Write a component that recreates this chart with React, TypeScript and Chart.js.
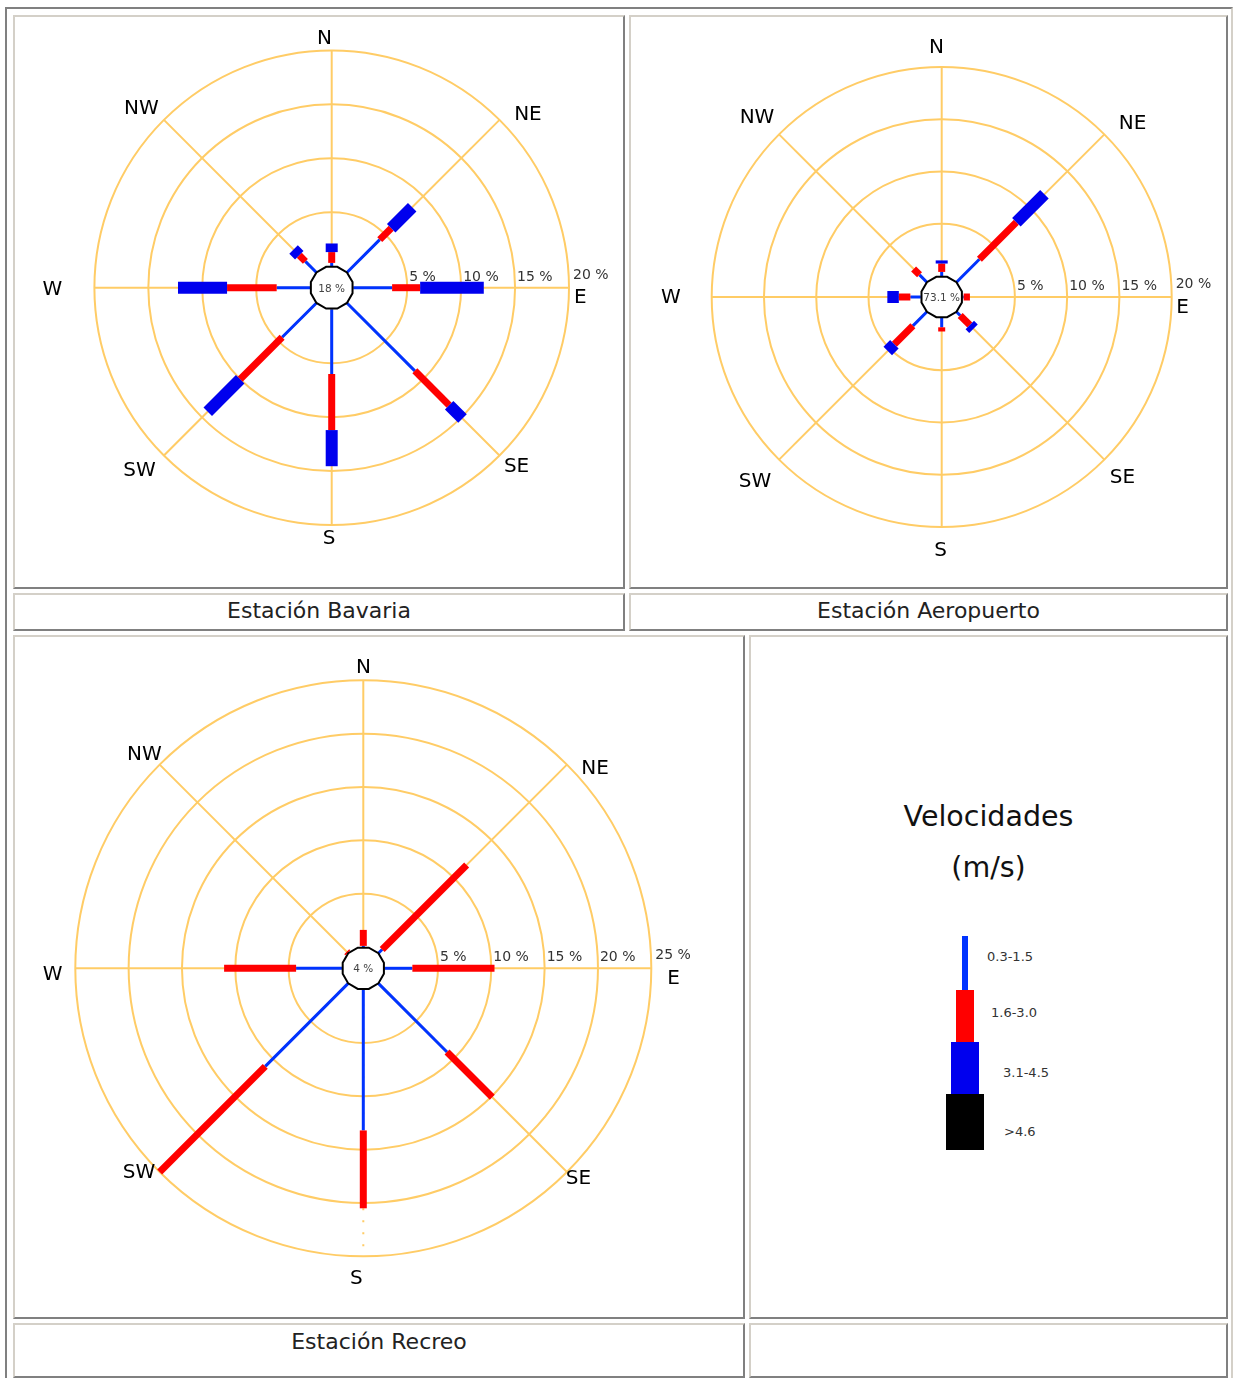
import React, { useEffect, useRef } from "react";
import { Chart, registerables } from "chart.js";

Chart.register(...registerables);

// Compass sectors, clockwise from north
const DIRECTIONS = ["N", "NE", "E", "SE", "S", "SW", "W", "NW"];
// Wind speed classes (m/s)
const SPEED_CLASSES = ["0.3-1.5", "1.6-3.0", "3.1-4.5", ">4.6"];

// Estación Bavaria: frequency (%) per sector for each speed class
const BAVARIA_03_15 = [0.3, 4.3, 3.6, 8.9, 6.0, 4.5, 3.1, 1.45];
const BAVARIA_16_30 = [1.0, 1.5, 2.6, 4.5, 5.2, 5.5, 4.6, 0.8];
const BAVARIA_31_45 = [0.8, 2.75, 5.9, 1.75, 3.35, 4.25, 4.55, 0.75];
const BAVARIA_46 = [0, 0, 0, 0, 0, 0, 0, 0];
const BAVARIA_CALM = 18;
const BAVARIA_TICKS = [5, 10, 15, 20];

// Estación Aeropuerto
const AEROPUERTO_03_15 = [0.4, 3.1, 0.1, 0.5, 0.9, 1.9, 1.0, 1.0];
const AEROPUERTO_16_30 = [0.8, 5.0, 0.6, 1.3, 0.4, 2.5, 1.1, 0.8];
const AEROPUERTO_31_45 = [0.3, 3.8, 0, 0.5, 0, 0.9, 1.1, 0];
const AEROPUERTO_46 = [0, 0, 0, 0, 0, 0, 0, 0];
const AEROPUERTO_CALM = 73.1;
const AEROPUERTO_TICKS = [5, 10, 15, 20];

// Estación Recreo
const RECREO_03_15 = [0.1, 0.5, 2.6, 9.1, 13.2, 11.0, 4.3, 0.05];
const RECREO_16_30 = [1.5, 11.2, 7.7, 6.0, 7.3, 14.0, 6.75, 0.15];
const RECREO_31_45 = [0, 0, 0, 0, 0, 0, 0, 0];
const RECREO_46 = [0, 0, 0, 0, 0, 0, 0, 0];
const RECREO_CALM = 4;
const RECREO_TICKS = [5, 10, 15, 20, 25];

// Styling
const FONT = '"DejaVu Sans", Verdana, sans-serif';
const GRID_COLOR = "#ffcc66";
const CLASS_COLORS = ["#0033ff", "#ff0000", "#0000ee", "#000000"];
const CLASS_WIDTHS = [3, 7, 12, 16];
const SWATCH_WIDTHS = [6, 18, 28, 38];
const LIGHT = "#d4d0c8";
const DARK = "#808080";

// Direction label placement, in units of the outer ring radius
const LABELS_BAVARIA = [
  [-0.03, -1.056], [0.827, -0.736], [1.048, 0.035], [0.779, 0.747],
  [-0.011, 1.051], [-0.81, 0.764], [-1.177, 0.0], [-0.802, -0.761],
];
const LABELS_AEROPUERTO = [
  [-0.023, -1.092], [0.83, -0.764], [1.047, 0.036], [0.786, 0.775],
  [-0.005, 1.095], [-0.812, 0.793], [-1.177, -0.005], [-0.803, -0.79],
];
const LABELS_RECREO = [
  [0.001, -1.051], [0.805, -0.699], [1.077, 0.028], [0.747, 0.725],
  [-0.024, 1.072], [-0.779, 0.702], [-1.079, 0.016], [-0.76, -0.748],
];

type RoseProps = {
  box: { left: number; top: number; width: number; height: number };
  center: { x: number; y: number };
  radius: number;
  max: number;
  ticks: number[];
  series: number[][];
  calm: number;
  labelPos: number[][];
  dottedSpoke?: number;
};

function WindRose(props: RoseProps) {
  const ref = useRef<HTMLCanvasElement | null>(null);

  useEffect(() => {
    const canvas = ref.current;
    if (!canvas) return;
    const { box, center, radius, max, ticks, series, calm, labelPos } = props;
    const dotted = props.dottedSpoke ?? -1;
    const cx = center.x - box.left;
    const cy = center.y - box.top;

    const rosePlugin = {
      id: "windRose",
      afterDatasetsDraw(chart: any) {
        const scale = chart.scales.r;
        const ctx: CanvasRenderingContext2D = chart.ctx;
        const n = chart.data.labels.length;
        ctx.save();
        ctx.lineCap = "butt";

        // stacked speed-class segments along each sector
        for (let i = 0; i < n; i++) {
          let acc = 0;
          chart.data.datasets.forEach((ds: any, k: number) => {
            const v = Number(ds.data[i]) || 0;
            if (v <= 0) return;
            const a = scale.getPointPositionForValue(i, acc);
            const b = scale.getPointPositionForValue(i, acc + v);
            ctx.strokeStyle = CLASS_COLORS[k];
            ctx.lineWidth = CLASS_WIDTHS[k];
            ctx.beginPath();
            ctx.moveTo(a.x, a.y);
            ctx.lineTo(b.x, b.y);
            ctx.stroke();
            acc += v;
          });
        }

        // calm hub
        const hubR = scale.getDistanceFromCenterForValue(0);
        ctx.beginPath();
        for (let s = 0; s < 12; s++) {
          const ang = ((15 + s * 30) * Math.PI) / 180;
          const x = scale.xCenter + hubR * Math.cos(ang);
          const y = scale.yCenter + hubR * Math.sin(ang);
          if (s === 0) ctx.moveTo(x, y);
          else ctx.lineTo(x, y);
        }
        ctx.closePath();
        ctx.fillStyle = "#ffffff";
        ctx.fill();
        ctx.strokeStyle = "#000000";
        ctx.lineWidth = 2;
        ctx.stroke();

        ctx.fillStyle = "#444444";
        ctx.font = `10.5px ${FONT}`;
        ctx.textAlign = "center";
        ctx.textBaseline = "alphabetic";
        ctx.fillText(`${calm} %`, scale.xCenter, scale.yCenter + 3.8);

        // ring values along the east spoke
        ctx.font = `14px ${FONT}`;
        ctx.fillStyle = "#333333";
        ctx.textAlign = "left";
        ticks.forEach((t, j) => {
          const last = j === ticks.length - 1;
          const p = scale.getPointPositionForValue(2, t);
          ctx.fillText(`${t} %`, p.x + (last ? 4 : 2), p.y - (last ? 14 : 12) + 5.1);
        });

        // compass labels
        ctx.font = `20px ${FONT}`;
        ctx.fillStyle = "#000000";
        ctx.textAlign = "center";
        chart.data.labels.forEach((lab: string, i: number) => {
          const x = scale.xCenter + labelPos[i][0] * scale.drawingArea;
          const y = scale.yCenter + labelPos[i][1] * scale.drawingArea + 7.3;
          ctx.fillText(lab, x, y);
        });
        ctx.restore();
      },
    };

    const chart = new Chart(canvas, {
      type: "radar",
      data: {
        labels: DIRECTIONS,
        datasets: series.map((d, k) => ({
          label: SPEED_CLASSES[k],
          data: d,
          showLine: false,
          fill: false,
          pointRadius: 0,
          pointHoverRadius: 0,
          pointHitRadius: 0,
          borderColor: CLASS_COLORS[k],
          backgroundColor: CLASS_COLORS[k],
        })),
      },
      options: {
        animation: false,
        responsive: false,
        maintainAspectRatio: false,
        events: [],
        layout: { padding: 0 },
        plugins: { legend: { display: false }, tooltip: { enabled: false } },
        scales: {
          r: {
            min: -2,
            max,
            startAngle: 0,
            ticks: { display: false },
            pointLabels: { display: false },
            grid: { circular: true, color: GRID_COLOR, lineWidth: 2 },
            angleLines: {
              color: GRID_COLOR,
              lineWidth: 2,
              borderDash: (c: any) => (c.index === dotted ? [2, 10] : []),
            },
            afterBuildTicks: (s: any) => {
              s.ticks = ticks.map((v) => ({ value: v }));
            },
            afterUpdate: (s: any) => {
              s.xCenter = cx;
              s.yCenter = cy;
              s.drawingArea = radius;
            },
          } as any,
        },
      } as any,
      plugins: [rosePlugin],
    });
    return () => chart.destroy();
  }, []);

  const { box } = props;
  return (
    <canvas
      ref={ref}
      width={box.width}
      height={box.height}
      style={{ position: "absolute", left: box.left, top: box.top, width: box.width, height: box.height }}
    />
  );
}

function Cell(p: { left: number; top: number; width: number; height: number }) {
  return (
    <div
      style={{
        position: "absolute",
        left: p.left,
        top: p.top,
        width: p.width,
        height: p.height,
        boxSizing: "border-box",
        borderStyle: "solid",
        borderWidth: 2,
        borderTopColor: LIGHT,
        borderLeftColor: LIGHT,
        borderRightColor: DARK,
        borderBottomColor: DARK,
        background: "#ffffff",
      }}
    />
  );
}

function Text(p: { x: number; baseline: number; size: number; text: string; center?: boolean; color?: string }) {
  return (
    <div
      style={{
        position: "absolute",
        left: p.x,
        top: p.baseline - 0.928 * p.size,
        transform: p.center ? "translateX(-50%)" : undefined,
        fontFamily: FONT,
        fontSize: p.size,
        lineHeight: "normal",
        whiteSpace: "nowrap",
        color: p.color ?? "#222222",
      }}
    >
      {p.text}
    </div>
  );
}

export default function App() {
  const swatchRows = [
    { top: 936, height: 56 },
    { top: 990, height: 54 },
    { top: 1042, height: 54 },
    { top: 1094, height: 56 },
  ];
  const swatchLabelPos = [
    [987, 960.7],
    [991, 1016.7],
    [1003, 1076.7],
    [1004, 1135.7],
  ];
  const legendX = 965;

  return (
    <div
      style={{
        position: "absolute",
        left: 0,
        top: 0,
        width: 1236,
        height: 1378,
        overflow: "hidden",
        background: "#ffffff",
        fontFamily: FONT,
      }}
    >
      <div
        style={{
          position: "absolute",
          left: 5,
          top: 7,
          width: 1228,
          height: 1384,
          boxSizing: "border-box",
          borderStyle: "solid",
          borderWidth: 2,
          borderTopColor: DARK,
          borderLeftColor: DARK,
          borderRightColor: LIGHT,
          borderBottomColor: LIGHT,
        }}
      />
      <Cell left={13} top={15} width={612} height={574} />
      <Cell left={629} top={15} width={599} height={574} />
      <Cell left={13} top={593} width={612} height={38} />
      <Cell left={629} top={593} width={599} height={38} />
      <Cell left={13} top={635} width={732} height={684} />
      <Cell left={749} top={635} width={479} height={684} />
      <Cell left={13} top={1323} width={732} height={55} />
      <Cell left={749} top={1323} width={479} height={55} />

      <WindRose
        box={{ left: 15, top: 17, width: 608, height: 570 }}
        center={{ x: 331.7, y: 287.7 }}
        radius={237.3}
        max={20}
        ticks={BAVARIA_TICKS}
        series={[BAVARIA_03_15, BAVARIA_16_30, BAVARIA_31_45, BAVARIA_46]}
        calm={BAVARIA_CALM}
        labelPos={LABELS_BAVARIA}
      />
      <WindRose
        box={{ left: 631, top: 17, width: 595, height: 570 }}
        center={{ x: 941.7, y: 297 }}
        radius={230}
        max={20}
        ticks={AEROPUERTO_TICKS}
        series={[AEROPUERTO_03_15, AEROPUERTO_16_30, AEROPUERTO_31_45, AEROPUERTO_46]}
        calm={AEROPUERTO_CALM}
        labelPos={LABELS_AEROPUERTO}
      />
      <WindRose
        box={{ left: 15, top: 637, width: 728, height: 680 }}
        center={{ x: 363.3, y: 968.3 }}
        radius={288}
        max={25}
        ticks={RECREO_TICKS}
        series={[RECREO_03_15, RECREO_16_30, RECREO_31_45, RECREO_46]}
        calm={RECREO_CALM}
        labelPos={LABELS_RECREO}
        dottedSpoke={4}
      />

      <Text x={319} baseline={618} size={22} text="Estación Bavaria" center />
      <Text x={928.5} baseline={618} size={22} text="Estación Aeropuerto" center />
      <Text x={379} baseline={1349} size={22} text="Estación Recreo" center />

      <Text x={988.5} baseline={826.7} size={28.5} text="Velocidades" center color="#111111" />
      <Text x={988.5} baseline={877} size={28.5} text="(m/s)" center color="#111111" />

      {swatchRows.map((s, k) => (
        <div
          key={SPEED_CLASSES[k]}
          style={{
            position: "absolute",
            left: legendX - SWATCH_WIDTHS[k] / 2,
            top: s.top,
            width: SWATCH_WIDTHS[k],
            height: s.height,
            background: CLASS_COLORS[k],
          }}
        />
      ))}
      {SPEED_CLASSES.map((c, k) => (
        <Text
          key={c}
          x={swatchLabelPos[k][0]}
          baseline={swatchLabelPos[k][1]}
          size={13}
          text={c}
          color="#333333"
        />
      ))}
    </div>
  );
}
